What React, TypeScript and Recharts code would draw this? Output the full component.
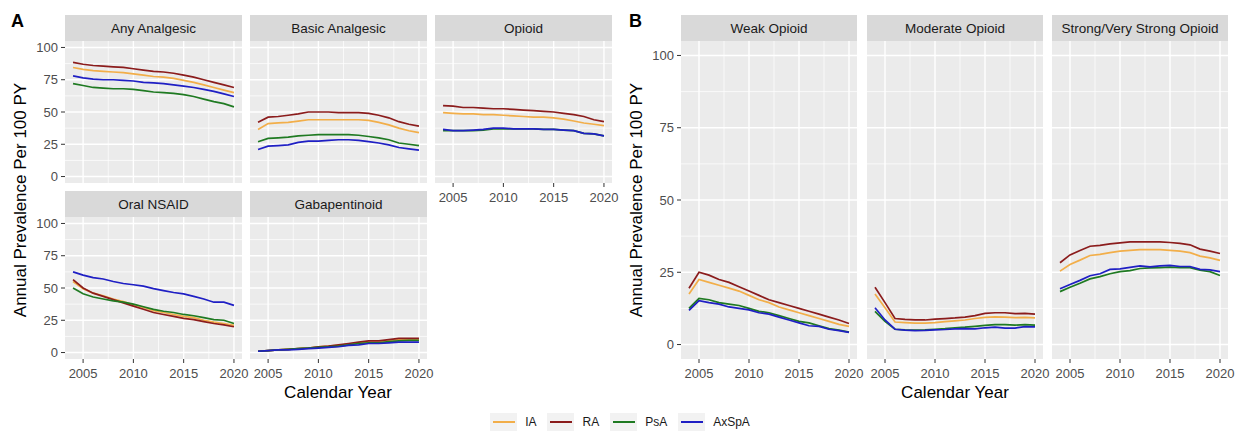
import React from "react";
import { LineChart, Line, XAxis, YAxis, CartesianGrid } from "recharts";

const years = [2004, 2005, 2006, 2007, 2008, 2009, 2010, 2011, 2012, 2013, 2014, 2015, 2016, 2017, 2018, 2019, 2020];
const groups = ["IA", "RA", "PsA", "AxSpA"];
const groupColors: Record<string, string> = { IA: "#F2AE49", RA: "#8B1C1C", PsA: "#1F7A22", AxSpA: "#1F1FC4" };

// Panel A
const anyIA = [84.5, 83, 82, 81.5, 81, 80.5, 79.5, 78.5, 77.5, 77, 76, 74.5, 73, 71, 69, 67, 65];
const anyRA = [88.5, 87, 86, 85.5, 85, 84.5, 83.5, 82.5, 81.5, 81, 80, 78.5, 77, 75, 73, 71, 69];
const anyPsA = [72, 70.5, 69, 68.5, 68, 68, 67.5, 66.5, 65.5, 65, 64.5, 63.5, 62, 60, 58, 56.5, 54];
const anyAxSpA = [78, 76.5, 75.5, 75, 75, 74.5, 74, 73, 72.5, 72, 71, 70, 69, 67.5, 66, 64, 62];

const basicIA = [36.5, 41, 41.5, 42, 43, 44, 44, 44, 44, 44, 44, 43.5, 42, 40, 37.5, 35.5, 34];
const basicRA = [42, 46, 46.5, 47.5, 48.5, 50, 50, 50, 49.5, 49.5, 49.5, 49, 47.5, 45.5, 42.5, 40.5, 39];
const basicPsA = [27, 29.5, 30, 30.5, 31.5, 32, 32.5, 32.5, 32.5, 32.5, 32, 31, 30, 28.5, 26, 25, 24];
const basicAxSpA = [21, 23.5, 24, 24.5, 26.5, 27.5, 27.5, 28, 28.5, 28.5, 28, 27, 26, 24.5, 22.5, 21.5, 20.5];

const opioidIA = [49.5, 49, 48.5, 48.5, 48, 48, 47.5, 47, 46.5, 46, 46, 45.5, 44.5, 43, 41.5, 40.5, 39.5];
const opioidRA = [55, 54.5, 53.5, 53.5, 53, 52.5, 52.5, 52, 51.5, 51, 50.5, 50, 49, 48, 46.5, 44, 42.5];
const opioidPsA = [35.5, 35.5, 35.5, 35.5, 36, 37, 37, 37, 37, 37, 36.5, 36.5, 36, 35.5, 33.5, 33, 31.5];
const opioidAxSpA = [36.5, 35.5, 35.5, 36, 36.5, 37.5, 37.5, 37, 37, 37, 36.5, 36.5, 36, 35.5, 33.5, 33, 31.5];

const nsaidIA = [55, 49.5, 46, 44, 41.5, 39.5, 37, 35, 32.5, 31, 29.5, 28, 27, 25, 23.5, 22.5, 21];
const nsaidRA = [56.5, 50, 46, 43.5, 41, 38.5, 36, 33.5, 31, 29.5, 28, 26.5, 25.5, 24, 22.5, 21.5, 20];
const nsaidPsA = [50, 45.5, 43, 41.5, 40, 39, 37.5, 35.5, 33.5, 32, 31, 29.5, 28.5, 27, 25.5, 25, 22.5];
const nsaidAxSpA = [62.5, 60, 58, 57, 55, 53.5, 52.5, 51.5, 49.5, 48, 46.5, 45.5, 43.5, 41.5, 39, 39, 36.5];

const gabaIA = [1, 1.5, 2, 2.5, 3, 3.5, 4.5, 5, 5.5, 6.5, 7.5, 8, 8, 9, 10, 10, 10];
const gabaRA = [1, 1.5, 2, 2.5, 3, 3.5, 4.5, 5, 6, 7, 8, 9, 9, 10, 11, 11, 11];
const gabaPsA = [1, 1.5, 2, 2.5, 3, 3.5, 4, 4.5, 5, 6, 7, 7.5, 7.5, 8.5, 9, 9.5, 9.5];
const gabaAxSpA = [1, 1.5, 2, 2, 2.5, 3, 3.5, 4, 4.5, 5.5, 6, 7, 7, 7.5, 8, 8, 8];

// Panel B
const weakIA = [17.5, 22.5, 21.5, 20.5, 19.5, 18.5, 17, 15.5, 14.5, 13, 12, 11, 10, 9, 8, 7, 6.3];
const weakRA = [19.5, 25, 24, 22.5, 21.5, 20, 18.5, 17, 15.5, 14.5, 13.5, 12.5, 11.5, 10.5, 9.5, 8.5, 7.3];
const weakPsA = [12.5, 16, 15.5, 14.5, 14, 13.5, 12.5, 11.5, 11, 10, 9, 8, 7.5, 6.5, 5.5, 5, 4.3];
const weakAxSpA = [11.8, 15.2, 14.5, 14, 13, 12.5, 12, 11, 10.5, 9.5, 8.5, 7.5, 6.5, 6.3, 5.3, 4.8, 4.2];

const modIA = [17.5, 12.7, 7.8, 7.6, 7.4, 7.4, 7.6, 7.9, 8.2, 8.5, 9, 9.4, 9.6, 9.5, 9.3, 9.4, 9.2];
const modRA = [19.8, 14.5, 9, 8.7, 8.5, 8.5, 8.8, 9, 9.2, 9.5, 10, 10.8, 11, 11, 10.7, 10.8, 10.5];
const modPsA = [11.5, 8, 5.3, 5.1, 5, 5.1, 5.3, 5.5, 5.8, 6, 6.3, 6.6, 6.9, 6.9, 6.7, 6.9, 6.7];
const modAxSpA = [12.7, 8.5, 5.3, 5, 4.8, 4.9, 5.1, 5.2, 5.4, 5.5, 5.4, 5.8, 6, 5.7, 5.7, 6.2, 6.1];

const strongIA = [25.4, 27.7, 29.2, 30.8, 31.2, 31.8, 32.3, 32.6, 32.8, 32.8, 32.8, 32.6, 32.3, 31.8, 30.6, 30, 29.1];
const strongRA = [28.3, 31, 32.5, 34, 34.3, 34.8, 35.2, 35.5, 35.5, 35.5, 35.5, 35.3, 35, 34.5, 33, 32.3, 31.5];
const strongPsA = [18.3, 19.8, 21.2, 22.7, 23.5, 24.5, 25.2, 25.6, 26.3, 26.5, 26.6, 26.8, 26.6, 26.6, 25.7, 25.2, 23.9];
const strongAxSpA = [19.3, 20.8, 22.2, 23.8, 24.5, 26, 26.2, 26.7, 27.2, 26.9, 27.2, 27.4, 27, 27, 26, 25.8, 25.2];

const xTicks = [2005, 2010, 2015, 2020];
const xMinor = [2007.5, 2012.5, 2017.5];
const yTicks = [0, 25, 50, 75, 100];
const yMinor = [12.5, 37.5, 62.5, 87.5];

const FONT = "'Liberation Sans', Arial, sans-serif";
const STRIP_H = 26;
const PAD_R = 18; // room for the last x tick label

type FacetProps = {
  title: string;
  series: number[][];
  left: number;
  top: number;
  width: number;
  height: number;
  showX: boolean;
  showY: boolean;
};

function Facet({ title, series, left, top, width, height, showX, showY }: FacetProps) {
  const data = years.map((yr, i) => ({
    year: yr,
    IA: series[0][i],
    RA: series[1][i],
    PsA: series[2][i],
    AxSpA: series[3][i],
  }));
  const yw = showY ? 40 : 0;
  const xh = showX ? 30 : 0;
  const tickStyle = { fill: "#4D4D4D", fontSize: 13 };
  return (
    <>
      <div
        style={{
          position: "absolute", left, top: top - STRIP_H, width, height: STRIP_H,
          background: "#D9D9D9", color: "#1A1A1A", fontSize: 13.5,
          display: "flex", alignItems: "center", justifyContent: "center",
        }}
      >
        {title}
      </div>
      <div style={{ position: "absolute", left: left - yw, top }}>
        <LineChart width={width + yw + PAD_R} height={height + xh} data={data}
          margin={{ top: 0, right: PAD_R, bottom: 0, left: 0 }}>
          <CartesianGrid fill="#EBEBEB" fillOpacity={1} stroke="#FFFFFF" strokeWidth={0.7}
            horizontalValues={yMinor} verticalValues={xMinor} />
          <CartesianGrid fill="none" stroke="#FFFFFF" strokeWidth={1.4}
            horizontalValues={yTicks} verticalValues={xTicks} />
          <XAxis dataKey="year" type="number" domain={[2003.2, 2020.8]} ticks={xTicks} interval={0}
            allowDataOverflow hide={!showX} height={xh} axisLine={false}
            tickSize={4} tickMargin={6} tickLine={{ stroke: "#333333" }} tick={tickStyle} />
          <YAxis type="number" domain={[-5, 105]} ticks={yTicks} interval={0} allowDataOverflow
            hide={!showY} width={yw} axisLine={false}
            tickSize={4} tickMargin={3} tickLine={{ stroke: "#333333" }} tick={tickStyle} />
          {groups.map((g) => (
            <Line key={g} type="linear" dataKey={g} stroke={groupColors[g]} strokeWidth={1.7}
              dot={false} activeDot={false} isAnimationActive={false} />
          ))}
        </LineChart>
      </div>
    </>
  );
}

const facets: FacetProps[] = [
  { title: "Any Analgesic", series: [anyIA, anyRA, anyPsA, anyAxSpA], left: 65, top: 41, width: 177, height: 142, showX: false, showY: true },
  { title: "Basic Analgesic", series: [basicIA, basicRA, basicPsA, basicAxSpA], left: 250, top: 41, width: 177, height: 142, showX: false, showY: false },
  { title: "Opioid", series: [opioidIA, opioidRA, opioidPsA, opioidAxSpA], left: 435, top: 41, width: 177, height: 142, showX: true, showY: false },
  { title: "Oral NSAID", series: [nsaidIA, nsaidRA, nsaidPsA, nsaidAxSpA], left: 65, top: 217, width: 177, height: 142, showX: true, showY: true },
  { title: "Gabapentinoid", series: [gabaIA, gabaRA, gabaPsA, gabaAxSpA], left: 250, top: 217, width: 177, height: 142, showX: true, showY: false },
  { title: "Weak Opioid", series: [weakIA, weakRA, weakPsA, weakAxSpA], left: 681, top: 41, width: 176, height: 318, showX: true, showY: true },
  { title: "Moderate Opioid", series: [modIA, modRA, modPsA, modAxSpA], left: 867, top: 41, width: 176, height: 318, showX: true, showY: false },
  { title: "Strong/Very Strong Opioid", series: [strongIA, strongRA, strongPsA, strongAxSpA], left: 1052, top: 41, width: 176, height: 318, showX: true, showY: false },
];

const axisTitle: React.CSSProperties = { position: "absolute", fontSize: 17, color: "#000", whiteSpace: "nowrap" };

export default function App() {
  return (
    <div style={{ position: "absolute", left: 0, top: 0, width: 1243, height: 439, background: "#FFFFFF", fontFamily: FONT, overflow: "hidden" }}>
      <div style={{ position: "absolute", left: 11, top: 11, fontSize: 18, fontWeight: "bold" }}>A</div>
      <div style={{ position: "absolute", left: 629, top: 11, fontSize: 18, fontWeight: "bold" }}>B</div>

      {facets.map((f) => (
        <Facet key={f.title} {...f} />
      ))}

      <div style={{ ...axisTitle, left: 338, top: 393, transform: "translate(-50%, -50%)" }}>Calendar Year</div>
      <div style={{ ...axisTitle, left: 955, top: 393, transform: "translate(-50%, -50%)" }}>Calendar Year</div>
      <div style={{ ...axisTitle, left: 21, top: 200, transform: "translate(-50%, -50%) rotate(-90deg)" }}>Annual Prevalence Per 100 PY</div>
      <div style={{ ...axisTitle, left: 637, top: 200, transform: "translate(-50%, -50%) rotate(-90deg)" }}>Annual Prevalence Per 100 PY</div>

      <div style={{ position: "absolute", left: 4, width: 1243, top: 413, height: 18, display: "flex", justifyContent: "center", alignItems: "center" }}>
        {groups.map((g) => (
          <div key={g} style={{ display: "flex", alignItems: "center", marginRight: 11 }}>
            <div style={{ width: 27, height: 18, background: "#F2F2F2", display: "flex", alignItems: "center", justifyContent: "center" }}>
              <div style={{ width: 22, height: 1.7, background: groupColors[g] }} />
            </div>
            <span style={{ fontSize: 12, color: "#1A1A1A", marginLeft: 8 }}>{g}</span>
          </div>
        ))}
      </div>
    </div>
  );
}
